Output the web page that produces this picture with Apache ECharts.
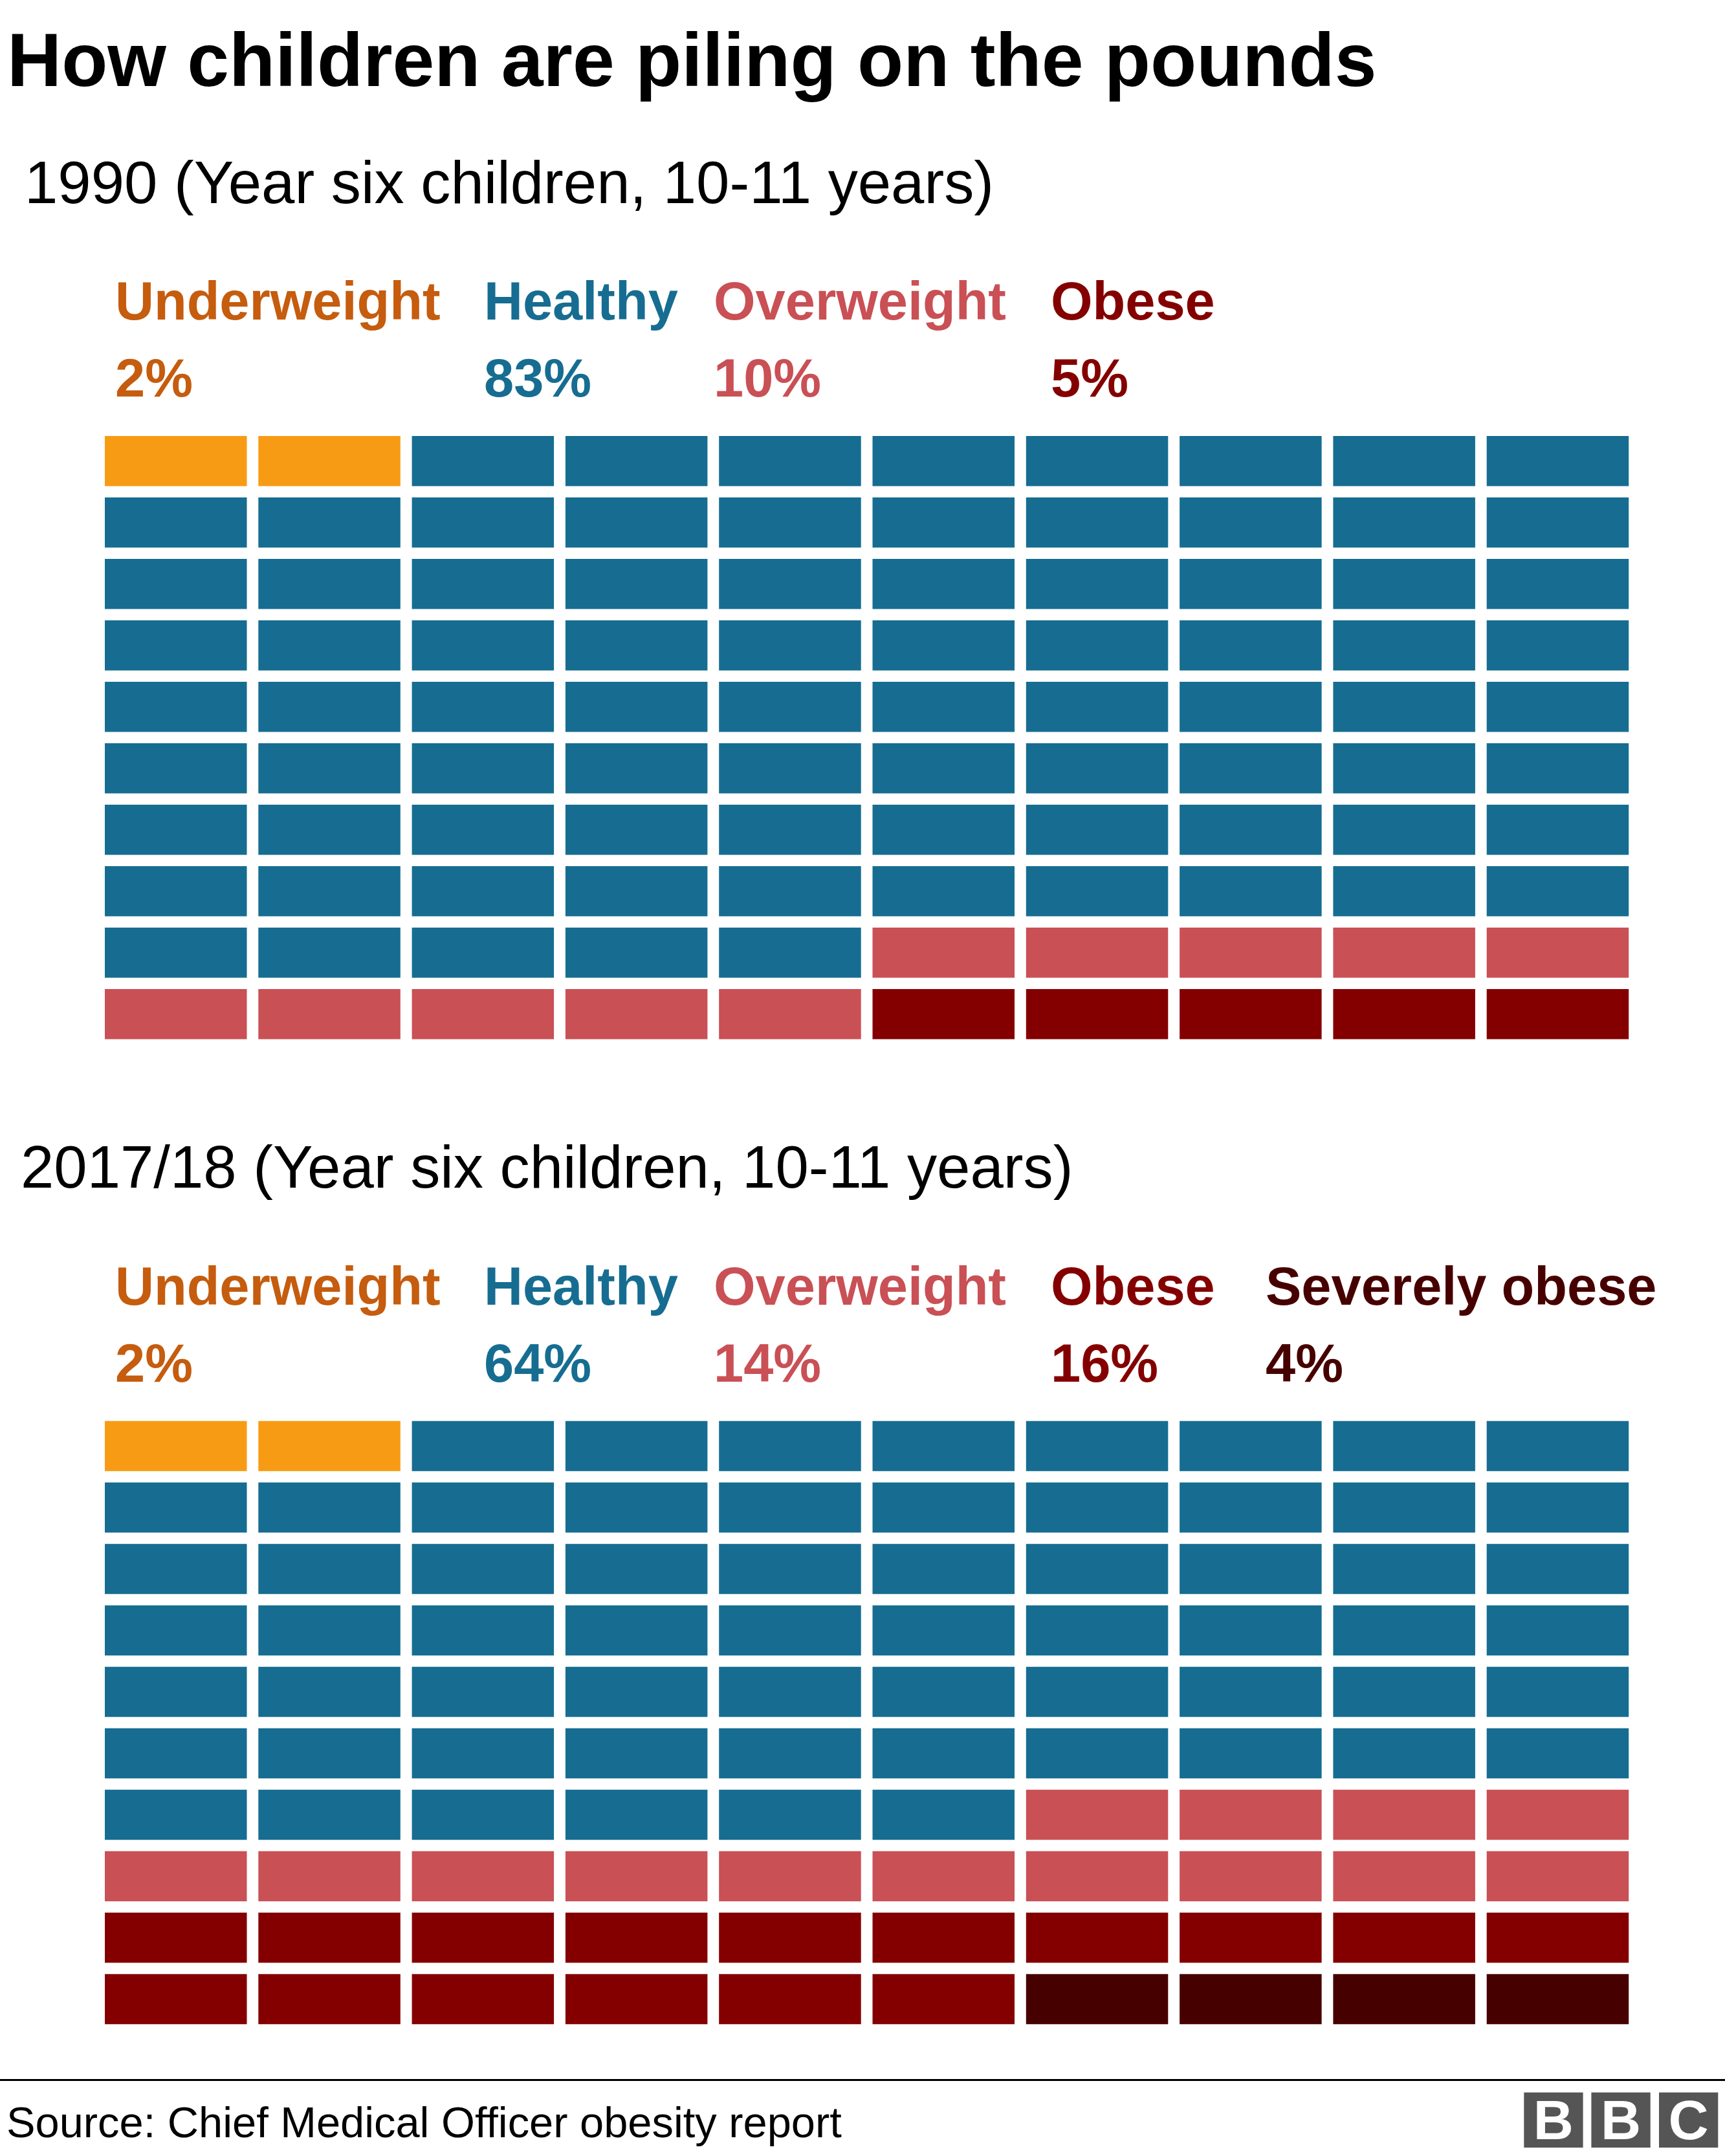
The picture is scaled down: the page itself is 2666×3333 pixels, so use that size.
<!DOCTYPE html>
<html>
<head>
<meta charset="utf-8">
<title>How children are piling on the pounds</title>
<script src="https://cdn.jsdelivr.net/npm/echarts@6/dist/echarts.min.js"></script>
<style>html,body{margin:0;padding:0;background:#fff}</style>
</head>
<body>
<div id="main" style="width:2666px;height:3333px;"></div>
<script type="text/javascript">
// chart data
var chartTitle = 'How children are piling on the pounds';
var sourceText = 'Source: Chief Medical Officer obesity report';
var categories = ['Underweight', 'Healthy', 'Overweight', 'Obese', 'Severely obese'];
var panelTitles = ['1990 (Year six children, 10-11 years)', '2017/18 (Year six children, 10-11 years)'];
var shares1990 = [2, 83, 10, 5, 0];
var shares2017 = [2, 64, 14, 16, 4];
var columns = ['1', '2', '3', '4', '5', '6', '7', '8', '9', '10'];
var rows = ['1', '2', '3', '4', '5', '6', '7', '8', '9', '10'];

var cellColors = ['#f89b14', '#166d91', '#c95055', '#840000', '#470000'];
var textColors = ['#c55c0e', '#166d91', '#c95055', '#840000', '#470000'];

var FONT = '"Liberation Sans", Arial, sans-serif';
var PITCH_X = 237.3, PITCH_Y = 95, GAP_X = 17.8, GAP_Y = 17.4;
var GRID_LEFT = 153.1;
var GRID_TOPS = [665.3, 2188];
var LABEL_X = [178, 748, 1103, 1624, 1956];
var LABEL_BASE = [494, 2017];
var VALUE_BASE = [613, 2136];

var myChart = echarts.init(document.getElementById('main'));

// fill the waffle from the shares, left to right then top to bottom
function cellsFor(shares) {
    var out = [], n = 0;
    shares.forEach(function (share, c) {
        var list = [];
        for (var i = 0; i < share; i++, n++) {
            list.push([n % columns.length, Math.floor(n / columns.length)]);
        }
        out.push(list);
    });
    return out;
}

function renderCell(params, api) {
    var p = api.coord([api.value(0), api.value(1)]);
    var s = api.size([1, 1]);
    return {
        type: 'rect',
        shape: { x: p[0] - s[0] / 2 + GAP_X / 2, y: p[1] - s[1] / 2 + GAP_Y / 2, width: s[0] - GAP_X, height: s[1] - GAP_Y },
        style: { fill: cellColors[params.seriesIndex % categories.length] }
    };
}

// baseline positioned text
function label(text, x, base, size, weight, color, align) {
    return {
        type: 'text', x: x, y: base - size * 0.27, silent: true,
        style: { text: text, fontFamily: FONT, fontSize: size, fontWeight: weight, fill: color, textAlign: align || 'left', textVerticalAlign: 'middle' }
    };
}

var grids = [], xAxes = [], yAxes = [], series = [];
var graphics = [
    label(chartTitle, 11, 132.7, 116.5, 'bold', '#000'),
    label(panelTitles[0], 38, 313, 92.3, 'normal', '#000'),
    label(panelTitles[1], 32, 1835.7, 92.3, 'normal', '#000'),
    label(sourceText, 10, 3304, 66.8, 'normal', '#000'),
    { type: 'rect', silent: true, shape: { x: 0, y: 3214, width: 2666, height: 3 }, style: { fill: '#000' } }
];

[shares1990, shares2017].forEach(function (shares, p) {
    grids.push({ left: GRID_LEFT, top: GRID_TOPS[p], width: PITCH_X * columns.length, height: PITCH_Y * rows.length });
    xAxes.push({ type: 'category', gridIndex: p, data: columns, show: false });
    yAxes.push({ type: 'category', gridIndex: p, data: rows, inverse: true, show: false });
    cellsFor(shares).forEach(function (cells, c) {
        series.push({ type: 'custom', name: categories[c], xAxisIndex: p, yAxisIndex: p, coordinateSystem: 'cartesian2d',
            renderItem: renderCell, data: cells, animation: false, silent: true });
    });
    shares.forEach(function (share, c) {
        if (!share) return;
        graphics.push(label(categories[c], LABEL_X[c], LABEL_BASE[p], 83, 'bold', textColors[c]));
        graphics.push(label(share + '%', LABEL_X[c], VALUE_BASE[p], 83, 'bold', textColors[c]));
    });
});

// BBC blocks
['B', 'B', 'C'].forEach(function (ch, i) {
    var x = [2355.3, 2459.4, 2564][i];
    graphics.push({ type: 'rect', silent: true, shape: { x: x, y: 3234.7, width: 91.3, height: 85.3 }, style: { fill: '#555' } });
    graphics.push({ type: 'text', silent: true, x: x + 45.6, y: 3283,
        style: { text: ch, fontFamily: FONT, fontSize: 86, fontWeight: 'bold', fill: '#fff', textAlign: 'center', textVerticalAlign: 'middle' } });
});

myChart.setOption({
    backgroundColor: '#fff',
    animation: false,
    grid: grids,
    xAxis: xAxes,
    yAxis: yAxes,
    series: series,
    graphic: { elements: graphics }
});
</script>
</body>
</html>
